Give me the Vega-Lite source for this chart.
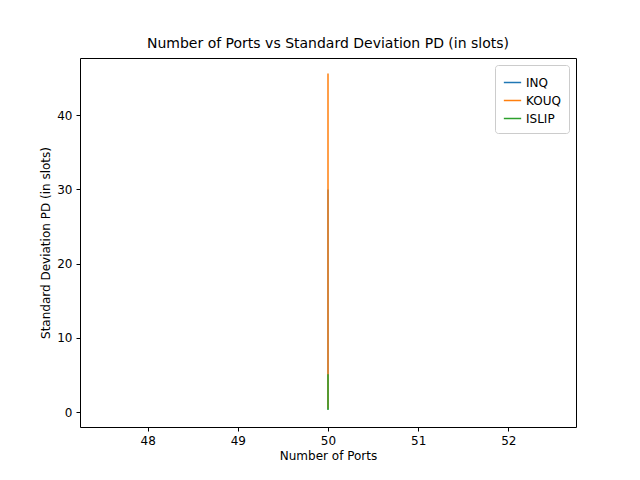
{
  "$schema": "https://vega.github.io/schema/vega-lite/v6.json",
  "autosize": "none",
  "width": 496,
  "height": 369,
  "padding": {"left": 80, "top": 58, "right": 64, "bottom": 53},
  "background": "white",
  "title": {"text": "Number of Ports vs Standard Deviation PD (in slots)", "fontSize": 14, "fontWeight": "normal", "font": "DejaVu Sans", "offset": 7},
  "data": {"values": [
    {"ports": 50, "sd": 0.4, "algo": "INQ", "step": 1},
    {"ports": 50, "sd": 30.0, "algo": "INQ", "step": 2},
    {"ports": 50, "sd": 0.5, "algo": "KOUQ", "step": 1},
    {"ports": 50, "sd": 45.6, "algo": "KOUQ", "step": 2},
    {"ports": 50, "sd": 0.3, "algo": "ISLIP", "step": 1},
    {"ports": 50, "sd": 5.1, "algo": "ISLIP", "step": 2}
  ]},
  "mark": {"type": "line", "strokeWidth": 1.5, "clip": true},
  "encoding": {
    "x": {"field": "ports", "type": "quantitative", "title": "Number of Ports",
      "scale": {"domain": [47.25, 52.75], "nice": false, "zero": false},
      "axis": {"values": [48, 49, 50, 51, 52], "format": "d"}},
    "y": {"field": "sd", "type": "quantitative", "title": "Standard Deviation PD (in slots)",
      "scale": {"domain": [-2.0, 47.7], "nice": false},
      "axis": {"values": [0, 10, 20, 30, 40]}},
    "color": {"field": "algo", "type": "nominal", "title": null,
      "sort": ["INQ", "KOUQ", "ISLIP"],
      "scale": {"domain": ["INQ", "KOUQ", "ISLIP"], "range": ["#1f77b4", "#ff7f0e", "#2ca02c"]},
      "legend": {"orient": "top-right", "offset": 7, "symbolType": "stroke", "symbolSize": 300, "symbolStrokeWidth": 1.5,
        "strokeColor": "#cccccc", "padding": 8, "fillColor": "white", "labelFontSize": 12, "cornerRadius": 3}},
    "detail": {"field": "algo"},
    "order": {"field": "step", "type": "quantitative"}
  },
  "config": {
    "font": "DejaVu Sans",
    "view": {"stroke": "black", "strokeWidth": 1},
    "axis": {"grid": false, "domain": false, "tickColor": "black", "tickSize": 4, "labelFontSize": 12, "labelColor": "black",
      "titleFontSize": 12, "titleFontWeight": "normal", "titleColor": "black", "labelPadding": 4}
  }
}
